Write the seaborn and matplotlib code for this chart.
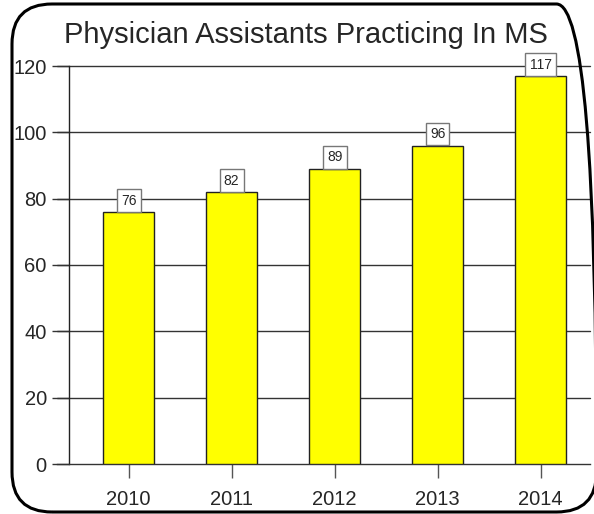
import matplotlib
matplotlib.use("Agg")
import matplotlib.pyplot as plt
from matplotlib.patches import FancyBboxPatch
import seaborn as sns
import pandas as pd

years = ["2010", "2011", "2012", "2013", "2014"]
counts = [76, 82, 89, 96, 117]
yticks = [0, 20, 40, 60, 80, 100, 120]
title = "Physician Assistants Practicing In MS"

sns.set_style("white")
plt.rcParams["font.family"] = ["Liberation Sans", "DejaVu Sans"]

df = pd.DataFrame({"year": years, "count": counts})

fig = plt.figure(figsize=(5.94, 5.14), dpi=100)
ax = fig.add_axes([69 / 594, 1 - 464 / 514, (590 - 69) / 594, (464 - 66) / 514])

sns.barplot(data=df, x="year", y="count", color="#ffff00", saturation=1,
            width=0.5, edgecolor="#222222", linewidth=1.0, ax=ax, zorder=3)

ax.set_ylim(0, 120)
ax.set_xlim(-0.58, 4.48)
ax.set_yticks(yticks)
ax.set_yticklabels([str(v) for v in yticks], fontsize=14.5)
ax.set_xticks(range(len(years)))
ax.set_xticklabels(years, fontsize=14.5)
ax.set_xlabel("")
ax.set_ylabel("")

for v in yticks[1:]:
    ax.axhline(v, color="#333333", lw=1.0, zorder=1, xmin=-12 / 521, clip_on=False)

for s in ["top", "right"]:
    ax.spines[s].set_visible(False)
ax.spines["left"].set_color("#222222")
ax.spines["left"].set_linewidth(1.0)
ax.spines["bottom"].set_color("#333333")
ax.spines["bottom"].set_linewidth(1.0)
ax.spines["bottom"].set_bounds(-0.58 - 12 / 103, 4.48)

ax.tick_params(axis="y", length=12, width=1.0, color="#333333", pad=4, left=True)
ax.tick_params(axis="x", length=10, width=1.0, color="#555555", pad=9, bottom=True)

# value labels in small boxes resting on each bar
for i, v in enumerate(counts):
    ax.annotate(str(v), xy=(i, v), xytext=(0, 8.2), textcoords="offset points",
                ha="center", va="center", fontsize=10, zorder=5,
                bbox=dict(boxstyle="square,pad=0.3", fc="white", ec="#777777", lw=1.0))

fig.text(0.515, 1 - 35 / 514, title, ha="center", va="center", fontsize=21)

# rounded outer frame, in inches; its right edge runs just past the canvas
frame = FancyBboxPatch((0.12, 0.02), 5.845, 5.08,
                       boxstyle="round,pad=0,rounding_size=0.40",
                       transform=fig.dpi_scale_trans, fill=False, ec="black", lw=2.2)
fig.patches.append(frame)

fig.savefig("out.png", dpi=100)
